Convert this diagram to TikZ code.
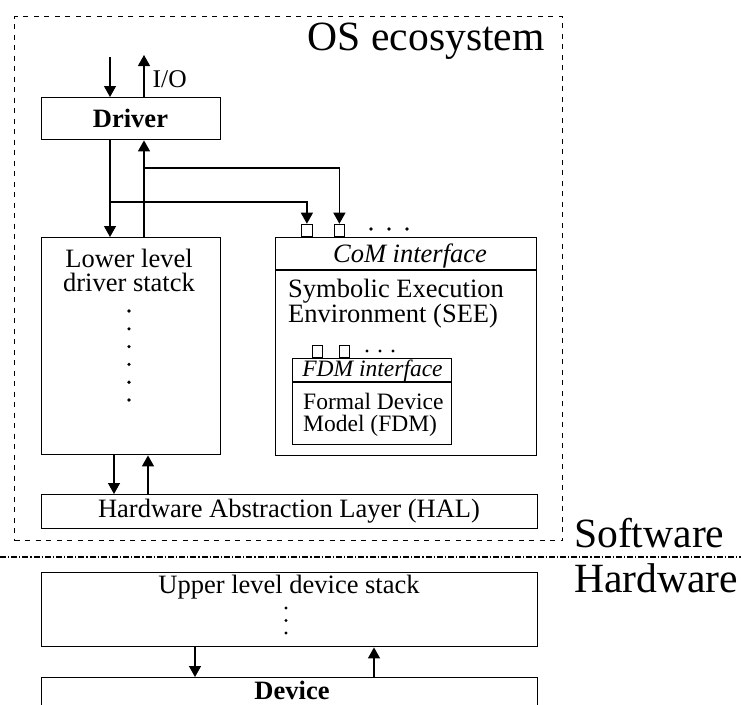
\documentclass[tikz,border=0pt]{standalone}
\usepackage{fontspec}
\setmainfont{Liberation Serif}
\usetikzlibrary{arrows.meta}

\begin{document}
\begin{tikzpicture}[x=1pt,y=-1pt,
  box/.style={draw, line width=1.4pt, rectangle, inner sep=0pt, anchor=north west},
  port/.style={draw, line width=1.3pt, rectangle, inner sep=0pt, minimum width=10.5pt, minimum height=12pt, anchor=south west},
  arr/.style={-{Triangle[length=11pt,width=12pt]}, line width=1.3pt},
  divider/.style={line width=1.4pt},
  big/.style={font=\fontsize{41.6}{46}\selectfont, inner sep=0pt},
  body/.style={font=\fontsize{26.5}{25}\selectfont, inner sep=0pt},
  small/.style={font=\fontsize{23.5}{22}\selectfont, inner sep=0pt},
  stackdot/.style={fill=black},
  oseco/.style={draw, line width=1.1pt, dash pattern=on 5pt off 5.5pt},
  split/.style={line width=1.1pt, dash pattern=on 6pt off 2pt on 1.2pt off 2pt}]

\useasboundingbox (0,0) rectangle (741,704);
\clip (0,0) rectangle (741,704);

% software / hardware boundary
\coordinate (sl) at (0,557);
\coordinate (sr) at (741,557);
\draw[split] (sl) -- (sr);
\node[big, anchor=base west] (sw) at (574,547) {Software};
\node[big, anchor=base west] (hw) at (574,592) {Hardware};

% OS ecosystem frame
\node[box, oseco, minimum width=548pt, minimum height=524pt] (os) at (14,16) {};
\node[big, anchor=base east] (oslabel) at (545,50) {OS ecosystem};

% driver
\node[box, minimum width=179pt, minimum height=42pt] (driver) at (41,97) {};
\node[body, anchor=base] (drivertxt) at (130.5,127) {\textbf{Driver}};

% lower level driver stack
\node[box, minimum width=179pt, minimum height=217pt] (lower) at (41,237) {};
\node[body, anchor=base] (lowertxt1) at (129,267) {Lower level};
\node[body, anchor=base] (lowertxt2) at (129,291.5) {driver statck};
\foreach \k in {0,...,5}
  \fill[stackdot] (129,311+17.8*\k) circle (1.8pt);

% symbolic execution environment with its CoM interface
\node[box, minimum width=261pt, minimum height=218pt] (com) at (275,237) {};
\coordinate (comhd) at (0,270);
\draw[divider] (com.west |- comhd) -- (com.east |- comhd);
\node[body, anchor=base] (comtxt) at (410,262) {\textit{CoM interface}};
\node[body, anchor=base west] (seetxt1) at (288,297) {Symbolic Execution};
\node[body, anchor=base west] (seetxt2) at (288,322) {Environment (SEE)};
\node[port] (p1) at (301,237) {};
\node[port] (p2) at (333.5,237) {};
\foreach \x in {371,389,407}
  \fill (\x,229) circle (1.8pt);

% formal device model with its FDM interface
\node[box, minimum width=159pt, minimum height=86pt] (fdm) at (292,358) {};
\coordinate (fdmhd) at (0,382);
\draw[divider] (fdm.west |- fdmhd) -- (fdm.east |- fdmhd);
\node[small, anchor=base] (fdmtxt) at (372.5,376) {\textit{FDM interface}};
\node[small, anchor=base west] (fdmtxt1) at (303,409) {Formal Device};
\node[small, anchor=base west] (fdmtxt2) at (303,431) {Model (FDM)};
\node[port, minimum width=10pt] (f1) at (312,358) {};
\node[port, minimum width=10pt] (f2) at (339,358) {};
\foreach \x in {367,380,393}
  \fill (\x,351) circle (1.6pt);

% hardware abstraction layer
\node[box, minimum width=496pt, minimum height=34pt] (hal) at (41,494) {};
\node[body, anchor=base] (haltxt) at (289,517) {Hardware Abstraction Layer (HAL)};

% upper level device stack
\node[box, minimum width=496pt, minimum height=74pt] (upper) at (41,572) {};
\node[body, anchor=base] (uppertxt) at (289,593) {Upper level device stack};
\foreach \y in {608,620.5,633}
  \fill (286,\y) circle (1.7pt);

% device
\node[box, minimum width=496pt, minimum height=60pt] (device) at (41,677) {};
\node[body, anchor=base] (devicetxt) at (292,699) {\textbf{Device}};

% request / response connectors
\coordinate (xa) at (110,0);
\coordinate (xb) at (144,0);
\coordinate (in) at (110,57);
\coordinate (out) at (144,55);
\draw[arr] (in) -- (in |- driver.north);
\draw[arr] (xb |- driver.north) -- (out);
\node[body, font=\fontsize{25.5}{25}\selectfont, anchor=base west] (io) at (152.5,87) {I/O};
\draw[arr] (xa |- driver.south) -- (xa |- lower.north);
\draw[arr] (xb |- lower.north) -- (xb |- driver.south);

\coordinate (ja) at (110,202);
\coordinate (jb) at (144,168);
\draw[arr] (ja) -| (p1.north);
\draw[arr] (jb) -| (p2.north);

\coordinate (xc) at (114,0);
\coordinate (xd) at (148,0);
\draw[arr] (xc |- lower.south) -- (xc |- hal.north);
\draw[arr] (xd |- hal.north) -- (xd |- lower.south);

\coordinate (xe) at (195,0);
\coordinate (xf) at (374,0);
\draw[arr] (xe |- upper.south) -- (xe |- device.north);
\draw[arr] (xf |- device.north) -- (xf |- upper.south);
\end{tikzpicture}
\end{document}
